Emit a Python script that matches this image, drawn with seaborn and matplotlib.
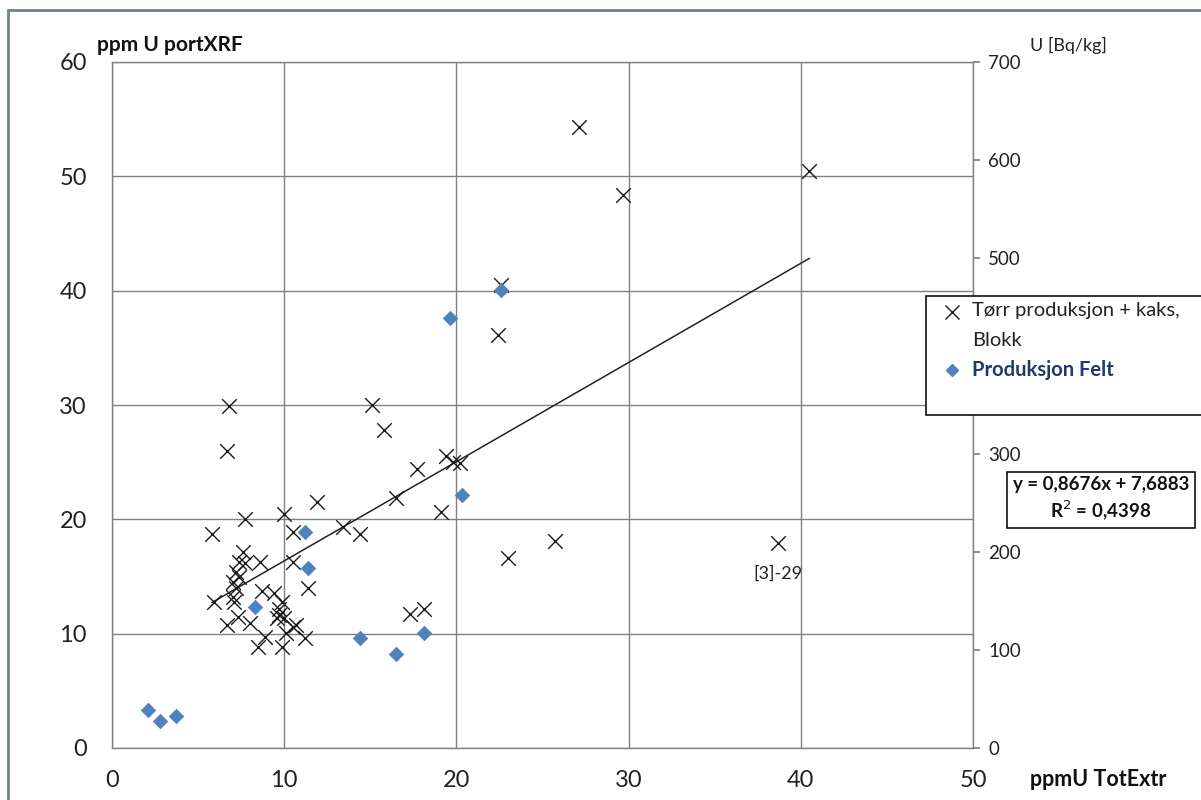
import matplotlib
matplotlib.use("Agg")
import matplotlib.pyplot as plt
import seaborn as sns
import pandas as pd
import numpy as np
from matplotlib.patches import Rectangle
from matplotlib.lines import Line2D

sns.set_theme(style="white")
plt.rcParams['font.family'] = ['Lato', 'DejaVu Sans']

# Series 1: Tørr produksjon + kaks, Blokk (x markers)
blokk_x = [27.1, 29.7, 40.5, 22.6, 22.4, 15.1, 15.8, 6.8, 6.7, 19.4, 19.8, 20.2,
           17.7, 19.1, 16.5, 11.9, 13.4, 14.4, 10.5, 10.0, 10.5, 11.4, 17.3, 18.1,
           10.5, 11.2, 23.0, 25.7, 38.7, 7.7, 5.8, 7.6, 7.4, 7.7, 8.6, 7.2, 7.4,
           7.0, 7.2, 5.9, 7.0, 7.1, 8.7, 9.4, 9.9, 9.7, 9.7, 9.6, 10.0, 7.3, 6.7,
           8.0, 8.9, 10.7, 10.1, 8.5, 9.9]
blokk_y = [54.3, 48.4, 50.5, 40.5, 36.1, 30.0, 27.8, 29.9, 26.0, 25.5, 25.0, 24.9,
           24.4, 20.6, 21.9, 21.5, 19.3, 18.7, 18.9, 20.5, 16.3, 14.0, 11.7, 12.2,
           10.6, 9.6, 16.6, 18.1, 17.9, 20.0, 18.7, 17.1, 16.3, 16.2, 16.3, 15.4, 15.0,
           14.5, 14.0, 12.8, 13.2, 12.8, 13.7, 13.6, 12.8, 12.2, 11.6, 11.4, 11.4, 11.5, 10.8,
           10.9, 9.7, 10.8, 10.1, 8.8, 8.8]

# Series 2: Produksjon Felt (blue diamonds)
felt_x = [11.2, 11.4, 14.4, 16.5, 18.1, 20.3, 19.6, 22.6, 8.3, 2.1, 2.8, 3.7]
felt_y = [18.9, 15.7, 9.6, 8.2, 10.1, 22.1, 37.6, 40.1, 12.3, 3.3, 2.4, 2.8]

series_names = ["Tørr produksjon + kaks,\nBlokk", "Produksjon Felt"]

# Trendline (from chart text)
slope = 0.8676
intercept = 7.6883
r2 = 0.4398

x_ticks = [0, 10, 20, 30, 40, 50]
y_ticks = [0, 10, 20, 30, 40, 50, 60]
bq_ticks = [0, 100, 200, 300, 400, 500, 600, 700]
# the 400 label is hidden behind the legend box in the original
bq_labels = ["0", "100", "200", "300", "", "500", "600", "700"]

annot_label = "[3]-29"
annot_x, annot_y = 38.7, 17.9

df_b = pd.DataFrame({"x": blokk_x, "y": blokk_y})
df_f = pd.DataFrame({"x": felt_x, "y": felt_y})

W, H = 1201, 800
fig = plt.figure(figsize=(12.01, 8.0), dpi=100)
ax = fig.add_axes([112/W, 1-748/H, (973-112)/W, (748-62)/H])

grid_c = "#808080"
blue = "#4f81bd"
ax.set_xlim(0, 50)
ax.set_ylim(0, 60)
ax.set_xticks(x_ticks)
ax.set_yticks(y_ticks)
ax.grid(True, color=grid_c, linewidth=1)
ax.set_axisbelow(True)
for s in ax.spines.values():
    s.set_color(grid_c)
    s.set_linewidth(1)
ax.tick_params(axis="both", length=0, labelsize=17, colors="#222222")
ax.tick_params(axis="y", pad=18)
ax.tick_params(axis="x", pad=16)

# trendline
lx = np.array([min(blokk_x), max(blokk_x)])
sns.lineplot(x=lx, y=slope*lx + intercept, ax=ax, color="#222222", linewidth=1.1, legend=False)

sns.scatterplot(data=df_b, x="x", y="y", ax=ax, marker="x", s=110, color="#1a1a1a",
                linewidth=1.0, zorder=3, legend=False)
sns.scatterplot(data=df_f, x="x", y="y", ax=ax, marker="D", s=55, color=blue,
                edgecolor=blue, linewidth=0.5, zorder=4, legend=False)
ax.set_xlabel("")
ax.set_ylabel("")

ax.annotate(annot_label, (annot_x, annot_y), xytext=(0, -16), textcoords="offset points",
            ha="center", va="top", fontsize=13, color="#222222")

# right axis
ax2 = ax.twinx()
ax2.set_ylim(0, 700)
ax2.set_yticks(bq_ticks)
ax2.set_yticklabels(bq_labels)
ax2.tick_params(axis="y", length=5, colors=grid_c, labelcolor="#222222", labelsize=13.5, pad=6)
for s in ax2.spines.values():
    s.set_visible(False)
ax2.grid(False)

# axis titles
fig.text(97/W, 1-45/H, "ppm U portXRF", fontsize=15, fontweight="bold", ha="left", va="center", color="#111111")
fig.text(1030/W, 1-45/H, "U [Bq/kg]", fontsize=13, ha="left", va="center", color="#222222")
fig.text(1030/W, 1-780/H, "ppmU TotExtr", fontsize=15.5, fontweight="bold", ha="left", va="center", color="#111111")

# legend (drawn as in the original: box partly outside the figure)
fig.patches.append(Rectangle((926/W, 1-415/H), (1205-926)/W, (415-296)/H,
                             transform=fig.transFigure, facecolor="white", edgecolor="#111111",
                             linewidth=1.2, zorder=5))
fig.add_artist(Line2D([952/W], [1-312/H], transform=fig.transFigure, marker="x",
                      markersize=10, markeredgewidth=1.0, color="#1a1a1a", linestyle="none", zorder=6))
fig.add_artist(Line2D([952/W], [1-370/H], transform=fig.transFigure, marker="D",
                      markersize=6, color=blue, linestyle="none", zorder=6))
t1 = fig.text(972/W, 1-302/H, series_names[0], fontsize=14.5, ha="left", va="top",
              color="#222222", linespacing=1.9, zorder=7)
t2 = fig.text(972/W, 1-370/H, series_names[1], fontsize=14.5, fontweight="bold", ha="left",
              va="center", color="#1f3a6e", zorder=7)

# equation box
fig.text((1004+1198)/2/W, 1-499/H, f"y = 0,8676x + 7,6883\nR$^2$ = 0,4398",
         ha="center", va="center", fontsize=13.5, fontweight="bold", color="#111111",
         linespacing=1.25,
         bbox=dict(boxstyle="square,pad=0.3", facecolor="white", edgecolor="#111111", linewidth=1.2))

# outer frame
fig.patches.append(Rectangle((8/W, -0.01), 1.02, 1-10/H+0.01, transform=fig.transFigure,
                             facecolor="none", edgecolor="#6f8090", linewidth=2, zorder=10))

fig.savefig("out.png", dpi=100)
